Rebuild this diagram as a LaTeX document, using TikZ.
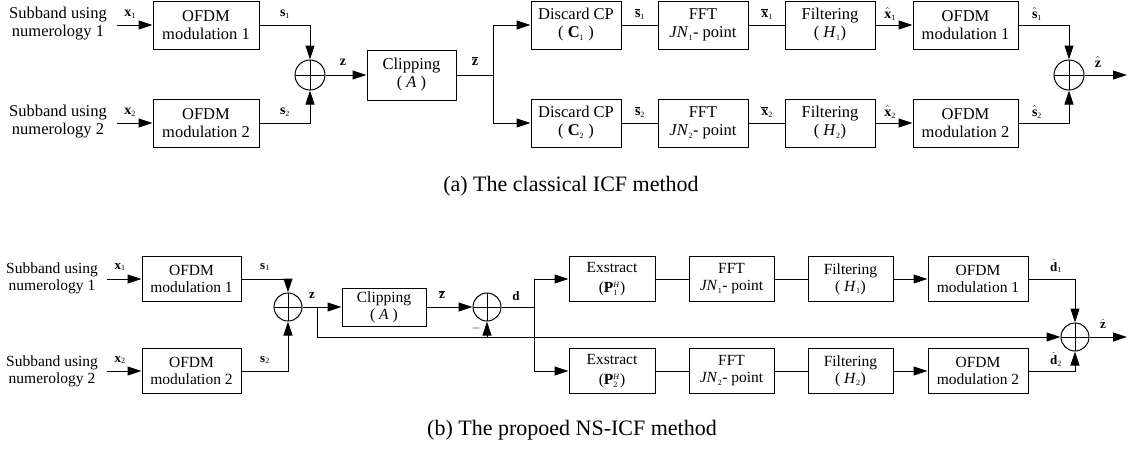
\documentclass[tikz,border=0pt]{standalone}
\usepackage{fontspec}
\setmainfont{Liberation Serif}
\usetikzlibrary{arrows.meta}
\newcommand{\sbs}[1]{\ensuremath{_{\mbox{\fontsize{8}{8}\selectfont #1}}}}
\newcommand{\bb}[1]{\mbox{\textbf{#1}}}
\newcommand{\sps}[2]{\ensuremath{^{\mbox{\fontsize{8}{8}\selectfont\textit{#1}}}_{\mbox{\fontsize{8}{8}\selectfont #2}}}}
\begin{document}
\begin{tikzpicture}[x=1pt,y=-1pt,
  ln/.style={line width=1pt},
  arr/.style={line width=1pt,-{Triangle[length=14pt,width=9pt]}},
  boxa/.style={draw,line width=1pt,minimum height=48pt,inner sep=0pt,align=center,font=\fontsize{16.5}{18}\selectfont},
  boxb/.style={draw,line width=1pt,minimum height=45pt,inner sep=0pt,align=center,font=\fontsize{15.5}{17}\selectfont},
  txta/.style={align=center,inner sep=0pt,font=\fontsize{16.5}{18}\selectfont},
  txtb/.style={align=center,inner sep=0pt,font=\fontsize{15.5}{17}\selectfont},
  lbla/.style={inner sep=0pt,font=\fontsize{14}{14}\selectfont},
  lblb/.style={inner sep=0pt,font=\fontsize{13}{13}\selectfont},
  sumn/.style={draw,circle,line width=1pt,minimum size=#1,inner sep=0pt,
    path picture={\draw[line width=1pt] (path picture bounding box.north) -- (path picture bounding box.south)
      (path picture bounding box.west) -- (path picture bounding box.east);}},
  captxt/.style={inner sep=0pt,font=\fontsize{22}{22}\selectfont}]
\useasboundingbox (0,0) rectangle (1128,448);
% ---------------- (a) ----------------
\node[txta] (ina1) at (58,24) {Subband using\\numerology 1};
\node[txta] (ina2) at (58,122) {Subband using\\numerology 2};
\coordinate (ia1) at (117,25);
\coordinate (ia2) at (117,123);
\node[boxa,minimum width=106pt] (ma1) at (206,25) {OFDM\\modulation 1};
\node[boxa,minimum width=106pt] (ma2) at (206,123) {OFDM\\modulation 2};
\node[sumn=30pt] (sa1) at (310,75) {};
\node[boxa,minimum width=89pt,minimum height=50pt] (cla) at (411.5,75) {Clipping\\( \textit{A} )};
\coordinate (bra) at (493,75);
\node[boxa,minimum width=90pt] (dc1) at (576,25) {Discard CP\\( \bb{C}\sbs{1} )};
\node[boxa,minimum width=90pt] (dc2) at (576,123) {Discard CP\\( \bb{C}\sbs{2} )};
\node[boxa,minimum width=90pt] (fa1) at (703,25) {FFT\\\textit{JN}\sbs{1}- point};
\node[boxa,minimum width=90pt] (fa2) at (703,123) {FFT\\\textit{JN}\sbs{2}- point};
\node[boxa,minimum width=90pt] (ha1) at (830,25) {Filtering\\( \textit{H}\sbs{1})};
\node[boxa,minimum width=90pt] (ha2) at (830,123) {Filtering\\( \textit{H}\sbs{2})};
\node[boxa,minimum width=105pt] (oa1) at (965.5,25) {OFDM\\modulation 1};
\node[boxa,minimum width=105pt] (oa2) at (965.5,123) {OFDM\\modulation 2};
\node[sumn=30pt] (sa2) at (1069,75) {};
\coordinate (outa) at (1127,75);

\draw[arr] (ia1) -- (ma1.west);
\draw[arr] (ia2) -- (ma2.west);
\draw[arr] (ma1.east) -| (sa1.north);
\draw[arr] (ma2.east) -| (sa1.south);
\draw[arr] (sa1.east) -- (cla.west);
\draw[ln] (cla.east) -- (bra);
\draw[arr] (bra) |- (dc1.west);
\draw[arr] (bra) |- (dc2.west);
\draw[ln] (dc1.east) -- (fa1.west);
\draw[ln] (dc2.east) -- (fa2.west);
\draw[ln] (fa1.east) -- (ha1.west);
\draw[ln] (fa2.east) -- (ha2.west);
\draw[arr] (ha1.east) -- (oa1.west);
\draw[arr] (ha2.east) -- (oa2.west);
\draw[arr] (oa1.east) -| (sa2.north);
\draw[arr] (oa2.east) -| (sa2.south);
\draw[arr] (sa2.east) -- (outa);

\node[lbla] (lx1) at (130,14) {\bb{x}\sbs{1}};
\node[lbla] (lx2) at (130,112) {\bb{x}\sbs{2}};
\node[lbla] (ls1) at (285,14) {\bb{s}\sbs{1}};
\node[lbla] (ls2) at (285,112) {\bb{s}\sbs{2}};
\node[lbla] (lz) at (343,62) {\bb{z}};
\node[lbla] (lzb) at (475,61) {$\overline{\bb{z}}$};
\node[lbla] (lsb1) at (640,14) {$\overline{\bb{s}}$\sbs{1}};
\node[lbla] (lsb2) at (640,112) {$\overline{\bb{s}}$\sbs{2}};
\node[lbla] (lxb1) at (767,14) {$\overline{\bb{x}}$\sbs{1}};
\node[lbla] (lxb2) at (767,112) {$\overline{\bb{x}}$\sbs{2}};
\node[lbla] (lxh1) at (890,14) {$\hat{\bb{x}}$\sbs{1}};
\node[lbla] (lxh2) at (890,112) {$\hat{\bb{x}}$\sbs{2}};
\node[lbla] (lsh1) at (1037,14) {$\hat{\bb{s}}$\sbs{1}};
\node[lbla] (lsh2) at (1037,112) {$\hat{\bb{s}}$\sbs{2}};
\node[lbla] (lzh) at (1098,62) {$\hat{\bb{z}}$};
\node[captxt] (capa) at (571,186) {(a)\ The classical ICF method};

% ---------------- (b) ----------------
\node[txtb] (inb1) at (52,278) {Subband using\\numerology 1};
\node[txtb] (inb2) at (52,371) {Subband using\\numerology 2};
\coordinate (ib1) at (107,279);
\coordinate (ib2) at (107,371);
\node[boxb,minimum width=99pt] (mb1) at (191.5,279) {OFDM\\modulation 1};
\node[boxb,minimum width=99pt] (mb2) at (191.5,371) {OFDM\\modulation 2};
\node[sumn=28pt] (sb1) at (288,307) {};
\coordinate (brz) at (317,307);
\coordinate (fbz) at (317,337);
\node[boxb,minimum width=84pt,minimum height=38pt] (clb) at (384,307) {Clipping\\( \textit{A} )};
\node[sumn=28pt] (sb2) at (487,307) {};
\coordinate (brd) at (534,307);
\node[boxb,minimum width=86pt,font=\fontsize{15.5}{20}\selectfont] (eb1) at (612,279) {Exstract\\(\bb{P}\sps{H}{1})};
\node[boxb,minimum width=86pt,font=\fontsize{15.5}{20}\selectfont] (eb2) at (612,371) {Exstract\\(\bb{P}\sps{H}{2})};
\node[boxb,minimum width=85pt] (fb1) at (731.5,279) {FFT\\\textit{JN}\sbs{1}- point};
\node[boxb,minimum width=85pt] (fb2) at (731.5,371) {FFT\\\textit{JN}\sbs{2}- point};
\node[boxb,minimum width=85pt] (hb1) at (850.5,279) {Filtering\\( \textit{H}\sbs{1})};
\node[boxb,minimum width=85pt] (hb2) at (850.5,371) {Filtering\\( \textit{H}\sbs{2})};
\node[boxb,minimum width=100pt] (ob1) at (978,279) {OFDM\\modulation 1};
\node[boxb,minimum width=100pt] (ob2) at (978,371) {OFDM\\modulation 2};
\node[sumn=28pt] (sb3) at (1075,337) {};
\coordinate (outb) at (1127,337);

\draw[arr] (ib1) -- (mb1.west);
\draw[arr] (ib2) -- (mb2.west);
\draw[arr] (mb1.east) -| (sb1.north);
\draw[arr] (mb2.east) -| (sb1.south);
\draw[arr] (sb1.east) -- (clb.west);
\draw[ln] (brz) -- (fbz);
\draw[arr] (fbz) -- (sb3.west);
\draw[arr] (clb.east) -- (sb2.west);
\draw[arr] (sb2.south |- fbz) -- (sb2.south);
\draw[ln] (sb2.east) -- (brd);
\draw[arr] (brd) |- (eb1.west);
\draw[arr] (brd) |- (eb2.west);
\draw[ln] (eb1.east) -- (fb1.west);
\draw[ln] (eb2.east) -- (fb2.west);
\draw[ln] (fb1.east) -- (hb1.west);
\draw[ln] (fb2.east) -- (hb2.west);
\draw[arr] (hb1.east) -- (ob1.west);
\draw[arr] (hb2.east) -- (ob2.west);
\draw[arr] (ob1.east) -| (sb3.north);
\draw[arr] (ob2.east) -| (sb3.south);
\draw[arr] (sb3.east) -- (outb);

\node[lblb] (mx1) at (120,267) {\bb{x}\sbs{1}};
\node[lblb] (mx2) at (120,360) {\bb{x}\sbs{2}};
\node[lblb] (ms1) at (265,267) {\bb{s}\sbs{1}};
\node[lblb] (ms2) at (265,360) {\bb{s}\sbs{2}};
\node[lblb] (mz) at (312,296) {\bb{z}};
\node[lblb] (mzb) at (442,295) {$\overline{\bb{z}}$};
\node[lblb] (mminus) at (476,328) {$-$};
\node[lblb] (md) at (516,296) {\bb{d}};
\node[lblb] (mdh1) at (1056,266) {$\hat{\bb{d}}$\sbs{1}};
\node[lblb] (mdh2) at (1056,359) {$\hat{\bb{d}}$\sbs{2}};
\node[lblb] (mzh) at (1103,324) {$\hat{\bb{z}}$};
\node[captxt] (capb) at (572,430) {(b)\ The propoed NS-ICF method};
\end{tikzpicture}
\end{document}
